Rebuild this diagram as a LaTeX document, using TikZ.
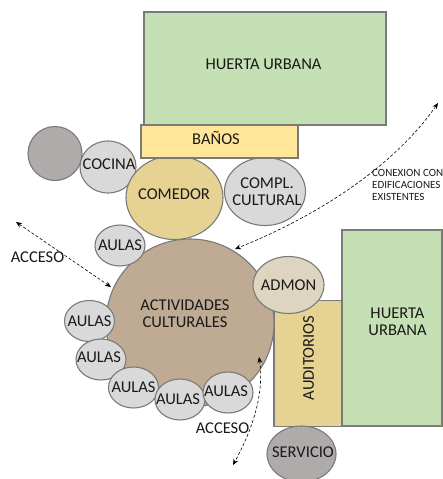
\documentclass[tikz,border=0pt]{standalone}
\usepackage{fontspec}
\setmainfont{Carlito}
\usetikzlibrary{shapes.geometric,arrows.meta}
\definecolor{huerta}{HTML}{C5E0B4}
\definecolor{banos}{HTML}{FFE699}
\definecolor{comedor}{HTML}{E6D394}
\definecolor{actividades}{HTML}{BFAA93}
\definecolor{admon}{HTML}{DDD5BF}
\definecolor{aula}{HTML}{D9D9D9}
\definecolor{oscuro}{HTML}{AFABAB}
\definecolor{borde}{HTML}{7A7A7A}
\begin{document}
\begin{tikzpicture}[
		x=1pt, y=-1pt
		,font=\fontsize{16.5}{17}\selectfont
		,every node/.append style={align=center, inner sep=0pt, text=black!90}
		,area/.style={draw=borde, line width=1.1pt, minimum width=#1}
		,room/.style 2 args={ellipse, inner sep=-9pt, draw=borde, line width=1.1pt, minimum width=#1, minimum height=#2}
		,aulas/.style={room={50pt}{41pt}, fill=aula}
		,flujo/.style={densely dashed, line width=.6pt, black, {Stealth[length=6pt,width=5pt]}-{Stealth[length=6pt,width=5pt]}}
	]
	\useasboundingbox (0,0) rectangle (442,479);
	% huertas y bloques
	\node [area=242pt, minimum height=113pt, fill=huerta] (huertaA) at (265,68.5) {};
	\node (huertaAtxt) at (263.5,64) {HUERTA URBANA};
	\node [area=100pt, minimum height=196pt, fill=huerta] (huertaB) at (392,328) {};
	\node (huertaBtxt) at (397.5,322) {HUERTA\\URBANA};
	\node [area=68pt, minimum height=126pt, fill=comedor] (auditorios) at (308,363.5) {};
	\node [rotate=90] (auditoriostxt) at (308.5,358) {AUDITORIOS};
	% recintos
	\node [room={54pt}{54pt}, fill=oscuro] (gris) at (55,153.5) {};
	\node [room={56pt}{52pt}, fill=aula] (cocina) at (108,167) {};
	\node (cocinatxt) at (109,164) {COCINA};
	\node [room={81pt}{68pt}, fill=aula] (compl) at (265,191.5) {};
	\node (compltxt) at (267,191.5) {COMPL.\\CULTURAL};
	\node [room={168pt}{168pt}, fill=actividades] (act) at (190,323) {};
	\node (acttxt) at (185,314) {ACTIVIDADES\\CULTURALES};
	\node [room={97pt}{84pt}, fill=comedor] (comedorA) at (174.5,197.5) {};
	\node (comedortxt) at (174,194) {COMEDOR};
	\node [area=157pt, minimum height=33pt, fill=banos] (banos) at (219.5,141.5) {};
	\node (banostxt) at (216,138) {BAÑOS};
	\node [aulas] (aulasA) at (120,245.5) {AULAS};
	\node [room={71pt}{57pt}, fill=admon] (admon) at (288.5,285) {ADMON};
	\node [aulas] (aulasB) at (89.5,321) {AULAS};
	\node [aulas] (aulasC) at (101,359.5) {};
	\node (aulasCtxt) at (99,357) {AULAS};
	\node [aulas] (aulasD) at (133.5,387.5) {AULAS};
	\node [aulas] (aulasE) at (180,399.5) {};
	\node (aulasEtxt) at (178,399) {AULAS};
	\node [aulas] (aulasF) at (228,392.5) {};
	\node (aulasFtxt) at (226,391) {AULAS};
	\node [room={69pt}{56pt}, fill=oscuro] (servicio) at (301.5,454) {};
	\node (serviciotxt) at (303,452) {SERVICIO};
	% accesos
	\coordinate (accA) at (16,222);
	\coordinate (accB) at (111,287);
	\coordinate (accC) at (259,357);
	\coordinate (accD) at (233,465);
	\coordinate (conA) at (438,103);
	\coordinate (conB) at (235,249);
	\draw [flujo] (accA) -- (accB);
	\draw [flujo] (accC) .. controls (264,390) and (255,425) .. (accD);
	\draw [flujo] (conA) .. controls (395,165) and (320,215) .. (conB);
	\node (accesoA) at (37.5,257.5) {ACCESO};
	\node (accesoB) at (222.5,428.5) {ACCESO};
	\node [anchor=north west, align=left, font=\fontsize{11}{12}\selectfont] (conexion) at (372,169) {CONEXION CON\\EDIFICACIONES\\EXISTENTES};
\end{tikzpicture}
\end{document}
